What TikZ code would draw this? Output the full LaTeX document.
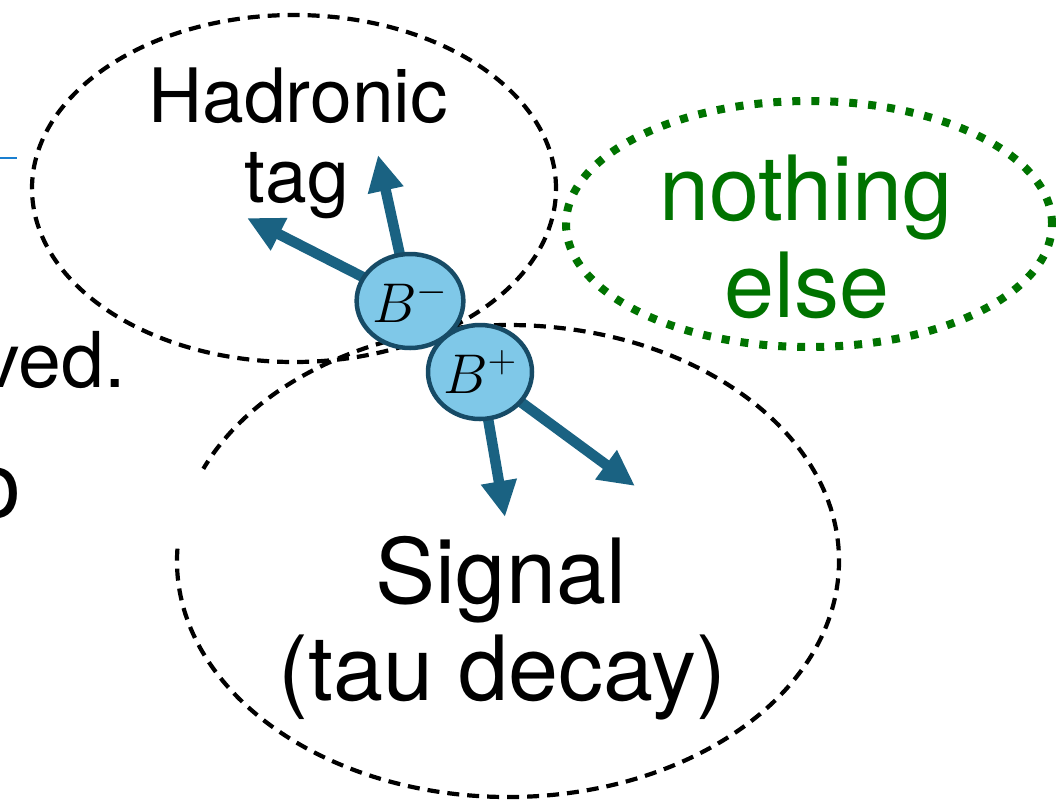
\RequirePackage{fix-cm}
\documentclass[tikz,border=0pt]{standalone}
\usepackage{fontspec}
\setmainfont{TeX Gyre Heros}
\usetikzlibrary{arrows.meta,shapes.geometric}
\definecolor{arrowblue}{HTML}{1A6282}
\definecolor{ballfill}{HTML}{7FC8E8}
\definecolor{ballborder}{HTML}{174B66}
\definecolor{tagblue}{HTML}{1A7FD0}
\definecolor{nothinggreen}{HTML}{007300}
\tikzset{
  ball/.style={ellipse,draw=ballborder,line width=4.5pt,fill=ballfill,minimum width=104pt,minimum height=94pt,inner sep=0pt,font=\fontsize{56}{60}\selectfont},
  particle/.style={draw=arrowblue,line width=10.5pt,-{Triangle[length=36pt,width=34pt]}},
  region/.style={draw=black,line width=4.2pt,dash pattern=on 12pt off 8pt},
  greenregion/.style={draw=nothinggreen,line width=8pt,dash pattern=on 8pt off 11pt},
  bigtext/.style={anchor=base,inner sep=0pt,font=\fontsize{75}{86}\selectfont},
  hugetext/.style={anchor=base,inner sep=0pt,font=\fontsize{90}{97}\selectfont},
}
\begin{document}
\begin{tikzpicture}[x=1pt,y=-1pt]
\useasboundingbox (0,0) rectangle (1056,801);
% partial text at left
\draw[tagblue,line width=2pt] (0,158) -- (17,158);
\node[anchor=base east,inner sep=0pt,font=\fontsize{77}{86}\selectfont] (ved) at (126,387) {ved.};
\node[anchor=base east,inner sep=0pt,font=\fontsize{92}{96}\selectfont] (oo) at (22,517) {o};
% regions
\draw[region] (294,188.5) ellipse [x radius=262pt, y radius=173.5pt];
\draw[region] (508,561) ++(177:331pt and 236pt) arc[start angle=177, end angle=517, x radius=331pt, y radius=236pt];
\draw[greenregion] (809,224) ellipse [x radius=243pt, y radius=123pt];
% texts
\node[bigtext] (hadr) at (298,122) {Hadronic};
\node[bigtext] (tag) at (297,202) {tag};
\node[hugetext,text=nothinggreen] (noth) at (806,220) {nothing};
\node[hugetext,text=nothinggreen] (els) at (807,317) {else};
\node[hugetext] (sig) at (501,603) {Signal};
\node[hugetext] (tau) at (502,700) {(tau decay)};
% arrow tips
\coordinate (t1) at (378,155);
\coordinate (t2) at (247,218);
\coordinate (t3) at (505,517);
\coordinate (t4) at (635,486);
% particles
\coordinate (bmc) at (410,301);
\coordinate (bpc) at (480,372);
\draw[particle] (bmc) -- (t1);
\draw[particle] (bmc) -- (t2);
\draw[particle] (bpc) -- (t3);
\draw[particle] (bpc) -- (t4);
\node[ball] (bm) at (bmc) {$B^-$};
\node[ball] (bp) at (bpc) {$B^+$};
\end{tikzpicture}
\end{document}
